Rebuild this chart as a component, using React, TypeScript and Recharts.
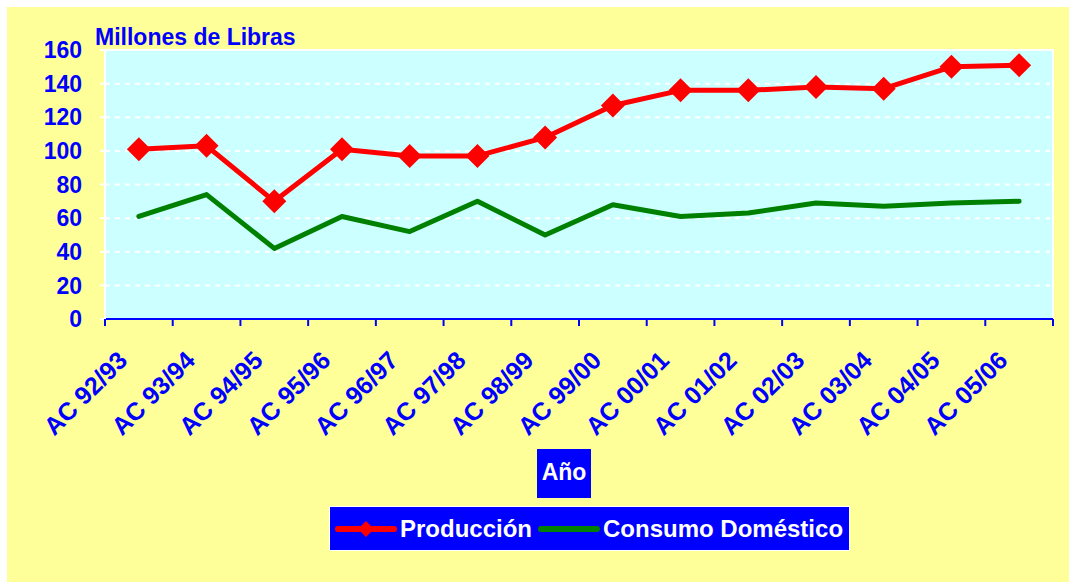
import React from 'react'
import {
  LineChart,
  Line,
  XAxis,
  YAxis,
  CartesianGrid,
  ReferenceArea,
  Legend,
} from 'recharts'

const years = [
  'AC 92/93', 'AC 93/94', 'AC 94/95', 'AC 95/96', 'AC 96/97', 'AC 97/98', 'AC 98/99',
  'AC 99/00', 'AC 00/01', 'AC 01/02', 'AC 02/03', 'AC 03/04', 'AC 04/05', 'AC 05/06',
]
const produccion = [101, 103, 70, 101, 97, 97, 108, 127, 136, 136, 138, 137, 150, 151]
const consumo = [61, 74, 42, 61, 52, 70, 50, 68, 61, 63, 69, 67, 69, 70]
const yTicks = [0, 20, 40, 60, 80, 100, 120, 140, 160]
const seriesOrder = ['produccion', 'consumo']

const data = years.map((year, i) => ({
  year,
  produccion: produccion[i],
  consumo: consumo[i],
}))

const FONT = '"Liberation Sans", Arial, sans-serif'
const BLUE = '#0000FF'
const RED = '#FF0000'
const GREEN = '#008000'

const Diamond = (props: any) => {
  const { cx, cy, index } = props
  if (cx == null || cy == null) return <g key={index} />
  const r = 12
  return (
    <path
      key={index}
      d={`M${cx},${cy - r} L${cx + r},${cy} L${cx},${cy + r} L${cx - r},${cy} Z`}
      fill={RED}
    />
  )
}

const XTick = (props: any) => {
  const { x, y, payload, index, visibleTicksCount, width } = props
  const axisY = y - 7
  const half = payload && payload.offset ? payload.offset : width / visibleTicksCount / 2
  const tx = x - 10
  const ty = axisY + 43
  return (
    <g>
      <line x1={x - half} y1={axisY} x2={x - half} y2={axisY + 7} stroke={BLUE} strokeWidth={2} />
      {index === visibleTicksCount - 1 && (
        <line x1={x + half} y1={axisY} x2={x + half} y2={axisY + 7} stroke={BLUE} strokeWidth={2} />
      )}
      <text
        x={tx}
        y={ty}
        transform={`rotate(-45, ${tx}, ${ty})`}
        textAnchor="end"
        fill={BLUE}
        fontFamily={FONT}
        fontWeight="bold"
        fontSize={25}
      >
        {payload.value}
      </text>
    </g>
  )
}

const XTitle = (props: any) => {
  const { viewBox } = props
  const cx = viewBox.x + viewBox.width / 2 - 15
  const top = viewBox.y + 130
  return (
    <g>
      <rect x={cx - 27} y={top} width={54} height={49} fill={BLUE} />
      <text
        x={cx}
        y={top + 31}
        textAnchor="middle"
        fill="#fff"
        fontFamily={FONT}
        fontWeight="bold"
        fontSize={23}
      >
        Año
      </text>
    </g>
  )
}

const YTitle = (props: any) => {
  const { viewBox } = props
  return (
    <text
      x={viewBox.x + viewBox.width - 10}
      y={viewBox.y - 5}
      textAnchor="start"
      fill={BLUE}
      fontFamily={FONT}
      fontWeight="bold"
      fontSize={23}
    >
      Millones de Libras
    </text>
  )
}

const LegendBox = (props: any) => {
  const items = [...(props.payload || [])].sort(
    (a: any, b: any) => seriesOrder.indexOf(a.dataKey) - seriesOrder.indexOf(b.dataKey)
  )
  return (
    <div
      style={{
        width: 521,
        height: 45,
        boxSizing: 'border-box',
        background: BLUE,
        border: '1.5px solid #fff',
        display: 'flex',
        alignItems: 'center',
        paddingLeft: 5,
        fontFamily: FONT,
        fontWeight: 'bold',
        fontSize: 24,
        color: '#fff',
        whiteSpace: 'nowrap',
      }}
    >
      {items.map((it: any) => {
        const isProd = it.dataKey === 'produccion'
        return (
          <div
            key={it.value}
            style={{ display: 'flex', alignItems: 'center', marginRight: 6, flexShrink: 0 }}
          >
            <svg width={62} height={20} style={{ marginRight: 3 }}>
              <line x1={3} y1={10} x2={59} y2={10} stroke={it.color} strokeWidth={6} strokeLinecap="round" />
              {isProd && <path d="M31,2 L39,10 L31,18 L23,10 Z" fill={RED} />}
            </svg>
            <span>{it.value}</span>
          </div>
        )
      })}
    </div>
  )
}

export default function App() {
  return (
    <div style={{ position: 'absolute', left: 7, top: 7 }}>
      <LineChart
        width={1062}
        height={575}
        data={data}
        margin={{ top: 43, right: 16, left: 0, bottom: 0 }}
        style={{ background: '#FFFF99' }}
      >
        <CartesianGrid
          vertical={false}
          stroke="#fff"
          strokeWidth={2}
          strokeDasharray="5 5"
          fill="#CCFFFF"
        />
        <ReferenceArea y1={0} y2={160} fill="none" stroke="#fff" strokeWidth={2} />
        <XAxis
          dataKey="year"
          scale="band"
          height={263}
          interval={0}
          axisLine={{ stroke: BLUE, strokeWidth: 2 }}
          tickLine={false}
          tickSize={7}
          tickMargin={0}
          tick={<XTick />}
          label={<XTitle />}
        />
        <YAxis
          width={98}
          domain={[0, 160]}
          ticks={yTicks}
          interval={0}
          axisLine={{ stroke: '#fff', strokeWidth: 2 }}
          tickLine={{ stroke: '#fff', strokeWidth: 2 }}
          tickSize={5}
          tickMargin={18}
          tick={{ fill: BLUE, fontFamily: FONT, fontWeight: 'bold', fontSize: 23 }}
          label={<YTitle />}
        />
        <Legend
          layout="horizontal"
          verticalAlign="middle"
          align="center"
          width={521}
          itemSorter={null}
          wrapperStyle={{ left: 322, top: 499, width: 521, height: 45 }}
          content={<LegendBox />}
        />
        <Line
          type="linear"
          dataKey="produccion"
          name="Producción"
          stroke={RED}
          strokeWidth={5}
          strokeLinecap="round"
          strokeLinejoin="round"
          dot={<Diamond />}
          activeDot={false}
          isAnimationActive={false}
        />
        <Line
          type="linear"
          dataKey="consumo"
          name="Consumo Doméstico"
          stroke={GREEN}
          strokeWidth={5}
          strokeLinecap="round"
          strokeLinejoin="round"
          dot={false}
          activeDot={false}
          isAnimationActive={false}
        />
      </LineChart>
    </div>
  )
}
